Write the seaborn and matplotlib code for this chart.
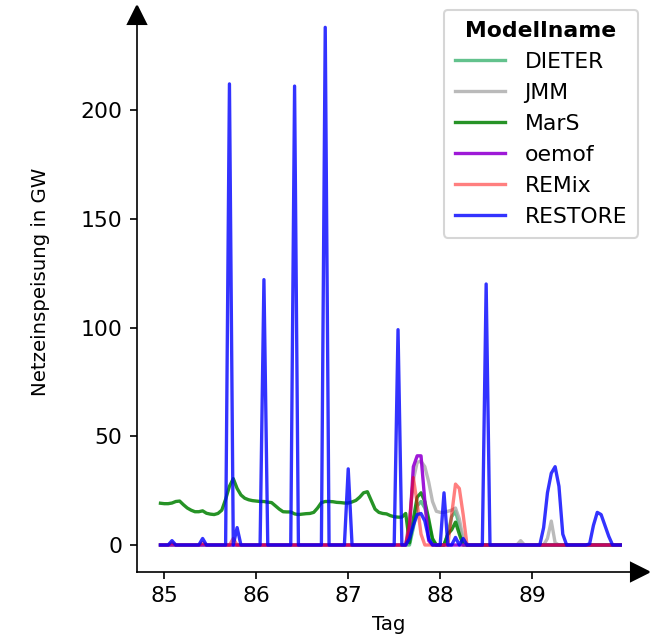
import numpy as np
import pandas as pd
import matplotlib
matplotlib.use("Agg")
import matplotlib.pyplot as plt
import seaborn as sns

# Stunden relativ zu Tag 85 (eine Zeile = 11 Stunden)
stunden = np.arange(-1, 120)
tag = 85 + stunden / 24

modelle = ["DIETER", "JMM", "MarS", "oemof", "REMix", "RESTORE"]
farben = ["mediumseagreen", "darkgray", "green", "darkviolet", "red", "blue"]
alphas = [0.8, 0.8, 0.85, 0.9, 0.5, 0.8]

dieter = [0, 0, 0, 0, 0, 0, 0, 0, 0, 0, 0,
          0, 0, 0, 0, 0, 0, 0, 0, 0, 0, 0,
          0, 0, 0, 0, 0, 0, 0, 0, 0, 0, 0,
          0, 0, 0, 0, 0, 0, 0, 0, 0, 0, 0,
          0, 0, 0, 0, 0, 0, 0, 0, 0, 0, 0,
          0, 0, 0, 0, 0, 0, 0, 0, 0, 0, 0,
          8, 18, 20, 17, 10, 2, 0, 0, 0, 5, 13,
          15.5, 9, 1, 0, 0, 0, 0, 0, 0, 0, 0,
          0, 0, 0, 0, 0, 0, 0, 0, 0, 0, 0,
          0, 0, 0, 0, 0, 0, 0, 0, 0, 0, 0,
          0, 0, 0, 0, 0, 0, 0, 0, 0, 0, 0]

jmm = [0, 0, 0, 0, 0, 0, 0, 0, 0, 0, 0,
       0, 0, 0, 0, 0, 0, 0, 0, 0, 0, 0,
       0, 0, 0, 0, 0, 0, 0, 0, 0, 0, 0,
       0, 0, 0, 0, 0, 0, 0, 0, 0, 0, 0,
       0, 0, 0, 0, 0, 0, 0, 0, 0, 0, 0,
       0, 0, 0, 0, 0, 0, 0, 0, 0, 0, 12,
       30, 38, 38.5, 36, 29, 20, 15.5, 15, 15, 15.5, 16,
       17, 12, 3, 0, 0, 0, 0, 0, 0, 0, 0,
       0, 0, 0, 0, 0, 0, 2, 0, 0, 0, 0,
       0, 0, 3, 11, 1, 0, 0, 0, 0, 0, 0,
       0, 0, 0, 0, 0, 0, 0, 0, 0, 0, 0]

mars = [19.2, 19.0, 19.0, 19.3, 20.0, 20.2, 18.5, 17.0, 16.0, 15.3, 15.3,
        15.7, 14.6, 14.2, 14.0, 14.5, 16.0, 21.0, 27.0, 30.5, 26.0, 23.0,
        21.5, 20.8, 20.4, 20.2, 20.0, 20.0, 19.7, 19.5, 18.0, 16.5, 15.3,
        15.2, 15.2, 14.3, 14.0, 14.2, 14.4, 14.5, 15.0, 17.0, 19.5, 20.0,
        20.0, 19.9, 19.6, 19.5, 19.3, 19.3, 19.8, 20.5, 22.0, 24.0, 24.5,
        20.5, 16.5, 15.0, 14.5, 14.3, 13.5, 13.0, 12.8, 12.8, 14.5, 1.0,
        12.0, 22.0, 24.0, 20.0, 12.0, 3.0, 0, 0, 0, 5.0, 7.0,
        10.5, 5.0, 0, 0, 0, 0, 0, 0, 0, 0, 0,
        0, 0, 0, 0, 0, 0, 0, 0, 0, 0, 0,
        0, 0, 0, 0, 0, 0, 0, 0, 0, 0, 0,
        0, 0, 0, 0, 0, 0, 0, 0, 0, 0, 0]

oemof = [0, 0, 0, 0, 0, 0, 0, 0, 0, 0, 0,
         0, 0, 0, 0, 0, 0, 0, 0, 0, 0, 0,
         0, 0, 0, 0, 0, 0, 0, 0, 0, 0, 0,
         0, 0, 0, 0, 0, 0, 0, 0, 0, 0, 0,
         0, 0, 0, 0, 0, 0, 0, 0, 0, 0, 0,
         0, 0, 0, 0, 0, 0, 0, 0, 0, 0, 8,
         36, 41, 41, 20, 2, 0, 0, 0, 0, 0, 0,
         0, 0, 0, 0, 0, 0, 0, 0, 0, 0, 0,
         0, 0, 0, 0, 0, 0, 0, 0, 0, 0, 0,
         0, 0, 0, 0, 0, 0, 0, 0, 0, 0, 0,
         0, 0, 0, 0, 0, 0, 0, 0, 0, 0, 0]

remix = [0, 0, 0, 1, 0, 0, 0, 0, 0, 0, 0,
         1, 0, 0, 0, 0, 0, 0, 0, 3, 0, 0,
         0, 0, 0, 0, 0, 0, 0, 0, 0, 0, 0,
         0, 0, 0, 0, 0, 0, 0, 0, 0, 0, 0,
         0, 0, 0, 0, 0, 0, 0, 0, 0, 0, 0,
         0, 0, 0, 0, 0, 0, 0, 0, 0, 0, 10,
         31, 19, 5, 0, 0, 0, 0, 0, 0, 0, 14,
         28, 26, 14, 0, 0, 0, 0, 0, 0, 0, 0,
         0, 0, 0, 0, 0, 0, 0, 0, 0, 0, 0,
         0, 0, 0, 0, 0, 0, 0, 0, 0, 0, 0,
         0, 0, 0, 0, 0, 0, 0, 0, 0, 0, 0]

restore = [0, 0, 0, 2, 0, 0, 0, 0, 0, 0, 0,
           3, 0, 0, 0, 0, 0, 0, 212, 0, 8, 0,
           0, 0, 0, 0, 0, 122, 0, 0, 0, 0, 0,
           0, 0, 211, 0, 0, 0, 0, 0, 0, 0, 238,
           0, 0, 0, 0, 0, 35, 0, 0, 0, 0, 0,
           0, 0, 0, 0, 0, 0, 0, 99, 0, 0, 3,
           9, 14, 14.5, 11, 3, 0, 0, 0, 24, 0, 0,
           3.5, 0, 3, 0, 0, 0, 0, 0, 120, 0, 0,
           0, 0, 0, 0, 0, 0, 0, 0, 0, 0, 0,
           0, 8, 24, 33, 36, 27, 5, 0, 0, 0, 0,
           0, 0, 0.5, 9, 15, 14, 9, 4, 0, 0, 0]

werte = [dieter, jmm, mars, oemof, remix, restore]

df = pd.concat([pd.DataFrame({"Tag": tag, "Netzeinspeisung": w, "Modellname": m})
                for m, w in zip(modelle, werte)], ignore_index=True)

fig = plt.figure(figsize=(653 / 150, 637 / 150), dpi=150)
ax = fig.add_axes([0.2098, 0.1025, 0.770, 0.874])

for m, c, a in zip(modelle, farben, alphas):
    sns.lineplot(data=df[df["Modellname"] == m], x="Tag", y="Netzeinspeisung",
                 color=c, alpha=a, linewidth=1.6, label=m, ax=ax)

ax.set_xlim(84.703, 90.171)
ax.set_ylim(-12.28, 243.7)
ax.set_xticks([85, 86, 87, 88, 89])
ax.set_yticks([0, 50, 100, 150, 200])
ax.tick_params(labelsize=10.5)
ax.set_xlabel("Tag", fontsize=9.5)
ax.set_ylabel("Netzeinspeisung in GW", fontsize=9.5)
ax.yaxis.set_label_coords(-0.174, 0.52)
sns.despine(ax=ax)

# Pfeile an den Achsenenden
ax.plot(1, 0, ">k", transform=ax.transAxes, clip_on=False, ms=9)
ax.plot(0, 1, "^k", transform=ax.transAxes, clip_on=False, ms=9)

leg = ax.legend(title="Modellname", loc="upper right", fontsize=10.5,
                bbox_to_anchor=(638 / 653, 1 - 10 / 637), bbox_transform=fig.transFigure,
                borderaxespad=0, handlelength=2.3, handletextpad=0.9, borderpad=0.5,
                title_fontproperties={"weight": "bold", "size": 10.5})
for h, a in zip(leg.get_lines(), alphas):
    h.set_alpha(a)

fig.savefig("out.png", dpi=150)
